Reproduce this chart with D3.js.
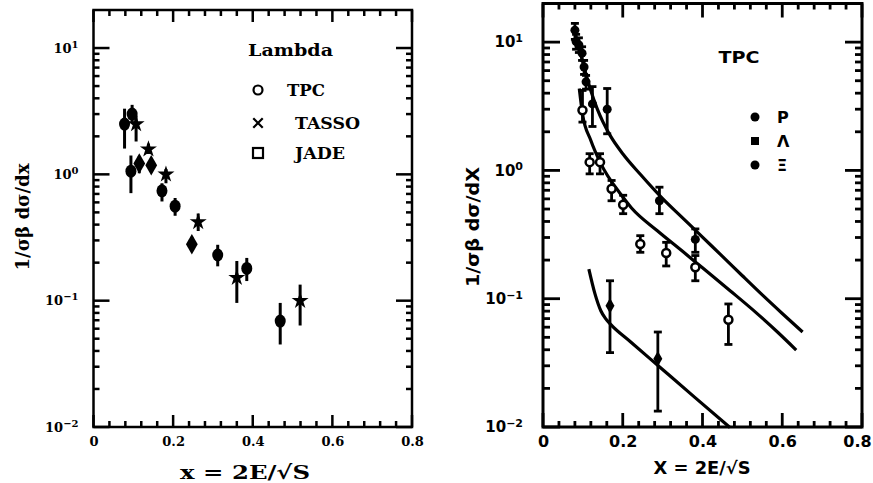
<!DOCTYPE html>
<html>
<head>
<meta charset="utf-8">
<script src="https://cdn.jsdelivr.net/npm/d3@7"></script>
<style>
  html, body { margin: 0; padding: 0; background: #fff; }
  svg { display: block; }
</style>
</head>
<body>
<svg id="chart" width="873" height="483"></svg>
<script>
// ---- Left panel: Lambda spectra from three experiments ----
const lamTpcX  = [0.078, 0.097, 0.094, 0.172, 0.205, 0.312, 0.385, 0.469];
const lamTpcY  = [2.5, 3.0, 1.06, 0.74, 0.56, 0.23, 0.18, 0.069];
const lamTpcLo = [1.6, 2.6, 0.71, 0.61, 0.47, 0.187, 0.143, 0.045];
const lamTpcHi = [3.31, 3.55, 1.41, 0.85, 0.65, 0.277, 0.218, 0.096];

const lamJadeX  = [0.115, 0.145, 0.247];
const lamJadeY  = [1.22, 1.18, 0.28];
const lamJadeLo = [1.02, 1.05, 0.25];
const lamJadeHi = [1.39, 1.30, 0.32];

const lamTassoX  = [0.107, 0.138, 0.182, 0.263, 0.36, 0.519];
const lamTassoY  = [2.5, 1.58, 1.0, 0.42, 0.152, 0.1];
const lamTassoLo = [1.82, 1.45, 0.85, 0.356, 0.096, 0.0636];
const lamTassoHi = [2.92, 1.75, 1.1, 0.49, 0.206, 0.134];

const leftLegend = ["TPC", "TASSO", "JADE"];

// ---- Right panel: TPC p, Lambda, Xi with model curves ----
const pX  = [0.080, 0.083, 0.090, 0.098, 0.103, 0.108, 0.124, 0.161, 0.292, 0.382];
const pY  = [12.4, 10.1, 9.5, 8.2, 6.4, 4.9, 3.3, 3.0, 0.58, 0.29];
const pLo = [10.5, 8.8, 8.3, 7.2, 5.6, 4.3, 2.2, 1.93, 0.46, 0.23];
const pHi = [14.0, 11.5, 10.8, 9.2, 7.2, 5.5, 4.5, 4.35, 0.74, 0.35];

const lX  = [0.099, 0.117, 0.143, 0.172, 0.201, 0.244, 0.309, 0.382, 0.465];
const lY  = [2.94, 1.16, 1.16, 0.72, 0.54, 0.267, 0.227, 0.176, 0.0686];
const lLo = [2.38, 0.94, 0.94, 0.58, 0.46, 0.23, 0.18, 0.138, 0.044];
const lHi = [4.2, 1.35, 1.35, 0.835, 0.64, 0.31, 0.275, 0.217, 0.091];

const xiX  = [0.168, 0.288];
const xiY  = [0.088, 0.034];
const xiLo = [0.038, 0.0133];
const xiHi = [0.138, 0.055];

const pCurveX = [0.078, 0.095, 0.107, 0.12, 0.136, 0.15, 0.169, 0.20, 0.244, 0.30, 0.35, 0.40, 0.45, 0.50, 0.55, 0.60, 0.651];
const pCurveY = [12.4, 7.94, 5.75, 4.17, 3.02, 2.40, 1.86, 1.35, 0.933, 0.603, 0.427, 0.302, 0.214, 0.151, 0.107, 0.0767, 0.055];

const lCurveX = [0.091, 0.099, 0.12, 0.145, 0.194, 0.222, 0.286, 0.35, 0.40, 0.47, 0.535, 0.59, 0.635];
const lCurveY = [4.35, 2.77, 1.71, 1.13, 0.657, 0.51, 0.34, 0.234, 0.174, 0.115, 0.0776, 0.0543, 0.0398];

const xiCurveX = [0.115, 0.13, 0.145, 0.157, 0.169, 0.22, 0.294, 0.38, 0.469];
const xiCurveY = [0.17, 0.11, 0.0806, 0.070, 0.0634, 0.046, 0.0291, 0.0171, 0.0099];

const rightLegend = ["P", "Λ", "Ξ"];

// shared tick positions
const xMajor = [0, 0.2, 0.4, 0.6, 0.8];
const xMinor = d3.range(1, 20).map(i => i * 0.04).filter((v, i) => (i + 1) % 5 !== 0);
const yMajor = [0.01, 0.1, 1, 10];
const yMinor = [];
[0.01, 0.1, 1, 10].forEach(d => d3.range(2, 10).forEach(m => { if (d * m < 20) yMinor.push(d * m); }));

const svg = d3.select("#chart");

function powLabels(sel, supSize) {
  sel.selectAll(".tick text").each(function (v) {
    const e = Math.round(Math.log10(v));
    const t = d3.select(this).text(null);
    t.append("tspan").text("10");
    t.append("tspan").attr("dy", "-0.5em").attr("font-size", supSize)
      .text(e < 0 ? "−" + (-e) : String(e));
  });
}

// inward tick marks on all four sides, placed by the scales
function tickMarks(g, x, y, cfg) {
  const [x0, x1] = x.range();
  const [y0, y1] = y.range();
  const tg = g.append("g").attr("class", "ticks");
  const seg = (list, f) => list.forEach(d => {
    const p = f(d);
    tg.append("line").attr("x1", p[0]).attr("y1", p[1]).attr("x2", p[2]).attr("y2", p[3])
      .attr("stroke", "#000").attr("stroke-width", cfg.tickW);
  });
  seg(xMajor, d => [x(d), y0, x(d), y0 - cfg.majX]);
  seg(xMinor, d => [x(d), y0, x(d), y0 - cfg.minX]);
  seg(xMajor, d => [x(d), y1, x(d), y1 + cfg.majX]);
  seg(xMinor, d => [x(d), y1, x(d), y1 + cfg.minX]);
  seg(yMajor, d => [x0, y(d), x0 + cfg.majY, y(d)]);
  seg(yMinor, d => [x0, y(d), x0 + cfg.minY, y(d)]);
  seg(yMajor, d => [x1, y(d), x1 - cfg.majY, y(d)]);
  seg(yMinor, d => [x1, y(d), x1 - cfg.minY, y(d)]);
}

function panel(cfg) {
  const { x, y } = cfg;
  const g = svg.append("g");
  const [x0, x1] = x.range();
  const [y0, y1] = y.range();
  const styleText = a => a.selectAll(".tick text").attr("fill", "#000")
    .attr("font-family", cfg.font).attr("font-weight", "bold");

  // tick labels from the axis generators
  g.append("g").attr("transform", `translate(0,${y0})`)
    .call(d3.axisBottom(x).tickValues(xMajor).tickSize(0).tickPadding(cfg.xPad)
      .tickFormat(d => d === 0 ? "0" : d3.format(".1f")(d)))
    .call(a => a.select(".domain").remove())
    .call(styleText)
    .call(a => a.selectAll(".tick text").attr("font-size", cfg.xTickSize)
      .attr("dx", d => d === 0.8 ? cfg.lastDx : 0));
  g.append("g").attr("transform", `translate(${x0},0)`)
    .call(d3.axisLeft(y).tickValues(yMajor).tickSize(0).tickPadding(cfg.yPad))
    .call(a => a.select(".domain").remove())
    .call(styleText)
    .call(a => a.selectAll(".tick text").attr("font-size", cfg.yTickSize))
    .call(a => powLabels(a, cfg.supSize));

  tickMarks(g, x, y, cfg);

  // frame
  g.append("rect").attr("x", x0).attr("y", y1).attr("width", x1 - x0).attr("height", y0 - y1)
    .attr("fill", "none").attr("stroke", "#000").attr("stroke-width", cfg.frameW);

  // axis titles
  const tg = g.append("g").attr("font-family", cfg.font).attr("font-weight", "bold");
  tg.append("text").attr("x", cfg.xTitle[0]).attr("y", cfg.xTitle[1])
    .attr("text-anchor", "middle").attr("font-size", cfg.titleSize)
    .attr("textLength", cfg.xTitle[2]).attr("lengthAdjust", "spacingAndGlyphs")
    .text(cfg.xTitleText);
  tg.append("text").attr("transform", `translate(${cfg.yTitle[0]},${cfg.yTitle[1]}) rotate(-90)`)
    .attr("text-anchor", "middle").attr("font-size", cfg.titleSize)
    .attr("textLength", cfg.yTitle[2]).attr("lengthAdjust", "spacingAndGlyphs")
    .text(cfg.yTitleText);
  return g;
}

function errBars(g, x, y, xs, lo, hi, w, cap) {
  g.selectAll(null).data(xs).join("line")
    .attr("x1", d => x(d)).attr("x2", d => x(d))
    .attr("y1", (d, i) => y(lo[i])).attr("y2", (d, i) => y(hi[i]))
    .attr("stroke", "#000").attr("stroke-width", w);
  if (cap > 0) {
    [lo, hi].forEach(arr => {
      g.selectAll(null).data(xs).join("line")
        .attr("x1", d => x(d) - cap / 2).attr("x2", d => x(d) + cap / 2)
        .attr("y1", (d, i) => y(arr[i])).attr("y2", (d, i) => y(arr[i]))
        .attr("stroke", "#000").attr("stroke-width", w);
    });
  }
}

// ================= Left panel =================
const xL = d3.scaleLinear([0, 0.8], [93.5, 412]);
const yL = d3.scaleLog([0.01, 20], [427, 10]);
const gL = panel({
  x: xL, y: yL, font: "'DejaVu Serif', serif",
  tickW: 2.5, frameW: 2.5, majX: 12, minX: 6, majY: 16, minY: 6,
  xPad: 10, yPad: 15, xTickSize: 13, yTickSize: 13, supSize: 10, lastDx: 0,
  titleSize: 19,
  xTitle: [245, 479, 130], xTitleText: "x = 2E/√S",
  yTitle: [29, 217, 107], yTitleText: "1/σβ dσ/dx"
});

errBars(gL, xL, yL, lamTpcX, lamTpcLo, lamTpcHi, 3, 0);
errBars(gL, xL, yL, lamJadeX, lamJadeLo, lamJadeHi, 3, 0);
errBars(gL, xL, yL, lamTassoX, lamTassoLo, lamTassoHi, 3, 0);

gL.selectAll(null).data(lamTpcX).join("ellipse")
  .attr("cx", d => xL(d)).attr("cy", (d, i) => yL(lamTpcY[i]))
  .attr("rx", 5.5).attr("ry", 6.5).attr("fill", "#000");
gL.selectAll(null).data(lamJadeX).join("path")
  .attr("transform", (d, i) => `translate(${xL(d)},${yL(lamJadeY[i])})`)
  .attr("d", d3.symbol(d3.symbolDiamond, 120)).attr("fill", "#000");
gL.selectAll(null).data(lamTassoX).join("path")
  .attr("transform", (d, i) => `translate(${xL(d)},${yL(lamTassoY[i])})`)
  .attr("d", d3.symbol(d3.symbolStar, 90)).attr("fill", "#000");

// legend
const legL = gL.append("g").attr("font-family", "'DejaVu Serif', serif").attr("font-weight", "bold");
legL.append("text").attr("x", 248).attr("y", 56).attr("font-size", 17)
  .attr("textLength", 85).attr("lengthAdjust", "spacingAndGlyphs").text("Lambda");
const legRows = [90, 123, 153];
const legTextX = [287, 295, 295];
const legTextW = [38, 65, 50];
legL.selectAll(null).data(leftLegend).join("text")
  .attr("x", (d, i) => legTextX[i]).attr("y", (d, i) => legRows[i] + 6)
  .attr("font-size", 16).attr("textLength", (d, i) => legTextW[i])
  .attr("lengthAdjust", "spacingAndGlyphs").text(d => d);
legL.append("circle").attr("cx", 258).attr("cy", legRows[0]).attr("r", 4.5)
  .attr("fill", "none").attr("stroke", "#000").attr("stroke-width", 2.2);
legL.append("path").attr("transform", `translate(258,${legRows[1]})`)
  .attr("d", d3.symbol(d3.symbolTimes, 60)).attr("fill", "none")
  .attr("stroke", "#000").attr("stroke-width", 2.2);
legL.append("rect").attr("x", 253).attr("y", legRows[2] - 5).attr("width", 10).attr("height", 10)
  .attr("fill", "none").attr("stroke", "#000").attr("stroke-width", 2.2);

// ================= Right panel =================
const xR = d3.scaleLinear([0, 0.8], [543, 862]);
const yR = d3.scaleLog([0.01, 20], [427, 3.5]);
const gR = panel({
  x: xR, y: yR, font: "'DejaVu Sans', sans-serif",
  tickW: 2.8, frameW: 3, majX: 14, minX: 6, majY: 17, minY: 7,
  xPad: 9, yPad: 20, xTickSize: 16, yTickSize: 15, supSize: 11, lastDx: -5,
  titleSize: 17,
  xTitle: [702, 474, 97], xTitleText: "X = 2E/√S",
  yTitle: [479, 227, 120], yTitleText: "1/σβ dσ/dX"
});

const line = d3.line().curve(d3.curveMonotoneX);
[[pCurveX, pCurveY], [lCurveX, lCurveY], [xiCurveX, xiCurveY]].forEach(([cx, cy]) => {
  gR.append("path")
    .attr("d", line(cx.map((d, i) => [xR(d), yR(cy[i])])))
    .attr("fill", "none").attr("stroke", "#000").attr("stroke-width", 3.2);
});

errBars(gR, xR, yR, pX, pLo, pHi, 2.8, 8);
errBars(gR, xR, yR, lX, lLo, lHi, 2.8, 8);
errBars(gR, xR, yR, xiX, xiLo, xiHi, 2.8, 8);

gR.selectAll(null).data(pX).join("circle")
  .attr("cx", d => xR(d)).attr("cy", (d, i) => yR(pY[i])).attr("r", 4.5).attr("fill", "#000");
gR.selectAll(null).data(lX).join("circle")
  .attr("cx", d => xR(d)).attr("cy", (d, i) => yR(lY[i])).attr("r", 4)
  .attr("fill", "#fff").attr("stroke", "#000").attr("stroke-width", 2.5);
gR.selectAll(null).data(xiX).join("path")
  .attr("transform", (d, i) => `translate(${xR(d)},${yR(xiY[i])})`)
  .attr("d", d3.symbol(d3.symbolDiamond, 70)).attr("fill", "#000");

// legend
const legR = gR.append("g").attr("font-family", "'DejaVu Sans', sans-serif").attr("font-weight", "bold");
legR.append("text").attr("x", 739).attr("y", 63).attr("text-anchor", "middle")
  .attr("font-size", 16).attr("textLength", 41).attr("lengthAdjust", "spacingAndGlyphs").text("TPC");
const legRRows = [117, 141, 165];
legR.selectAll(null).data(rightLegend).join("text")
  .attr("x", 777).attr("y", (d, i) => legRRows[i] + 6).attr("font-size", 16).text(d => d);
legR.append("circle").attr("cx", 755).attr("cy", legRRows[0]).attr("r", 4.5).attr("fill", "#000");
legR.append("rect").attr("x", 751).attr("y", legRRows[1] - 4).attr("width", 8).attr("height", 8).attr("fill", "#000");
legR.append("circle").attr("cx", 755).attr("cy", legRRows[2]).attr("r", 4.5).attr("fill", "#000");
</script>
</body>
</html>
